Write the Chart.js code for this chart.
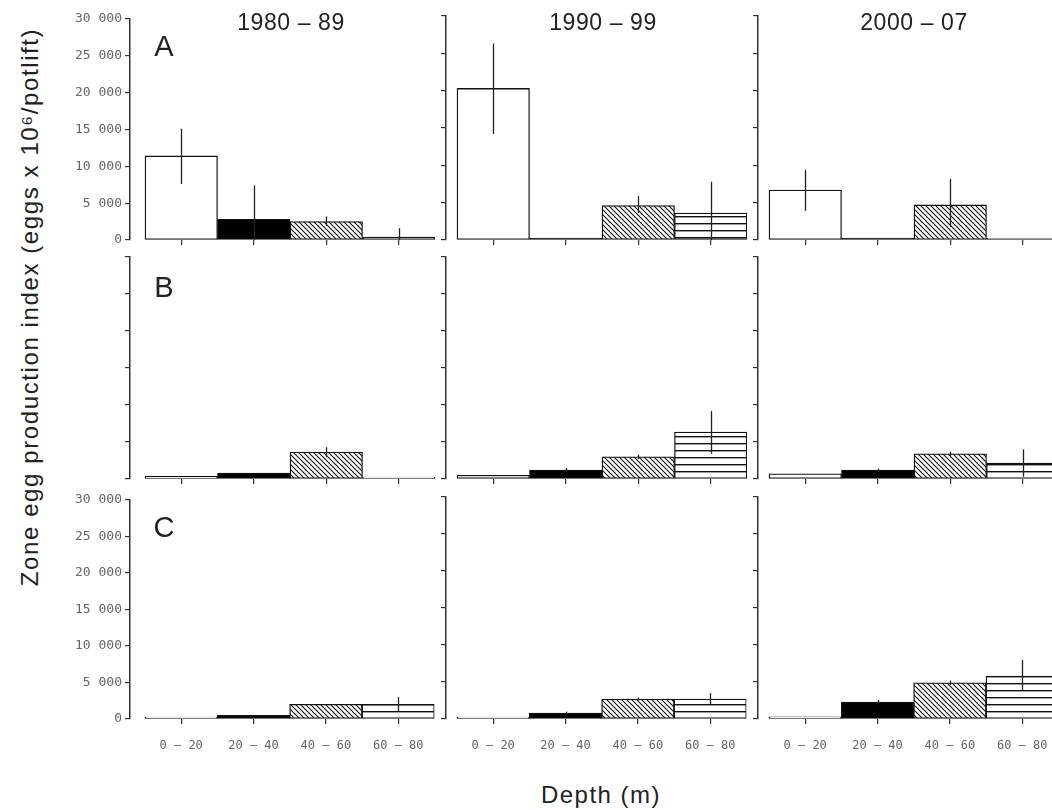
<!DOCTYPE html>
<html>
<head>
<meta charset="utf-8">
<script src="https://cdn.jsdelivr.net/npm/chart.js@4.4.0/dist/chart.umd.min.js"></script>
<style>
  body { margin: 0; background: #fff; width: 1052px; height: 810px; overflow: hidden; position: relative;
         font-family: "Liberation Sans", Arial, sans-serif; color: #222; }
  canvas { position: absolute; }
  .lbl { position: absolute; white-space: nowrap; transform: translate(-50%, -50%); }
</style>
</head>
<body>
<script>
// categories
const depthLabels = ['0 – 20', '20 – 40', '40 – 60', '60 – 80'];
const periods = ['1980 – 89', '1990 – 99', '2000 – 07'];
const zones = ['A', 'B', 'C'];

// zone A (one array per period: 1980-89, 1990-99, 2000-07)
const valuesA = [[11400, 2800, 2500, 400], [20300, 0, 4600, 3600], [6700, 0, 4700, 0]];
const upperA  = [[15100, 7400, 3200, 1600], [26300, null, 5900, 7800], [9400, null, 8200, null]];
const lowerA  = [[7600, 0, 1900, 0], [14200, null, 3600, 0], [3900, null, 1750, null]];

// zone B
const valuesB = [[350, 800, 3650, 0], [500, 1200, 3000, 6350], [700, 1200, 3400, 2150]];
const upperB  = [[null, null, 4300, null], [null, 1500, 3300, 9200], [null, 1400, 3700, 4000]];
const lowerB  = [[null, null, 3000, null], [null, 900, 2700, 3400], [null, 1000, 3100, 300]];

// zone C
const valuesC = [[0, 500, 2000, 2000], [150, 800, 2700, 2700], [300, 2300, 4900, 5800]];
const upperC  = [[null, null, null, 3000], [null, 1000, 2900, 3500], [null, 2600, 5200, 8000]];
const lowerC  = [[null, null, null, 1000], [null, 600, 2500, 2000], [null, 2000, 4600, 3800]];

const yTicks = [0, 5000, 10000, 15000, 20000, 25000, 30000];

const allValues = [valuesA, valuesB, valuesC];
const allUpper = [upperA, upperB, upperC];
const allLower = [lowerA, lowerB, lowerC];

// layout of the panels
const colAxisX = [130, 446, 758];
const colGap = [15, 11, 11];
const rowTop = [16, 257, 497];
const rowBottom = [240, 479, 719];
const unit = 72.5;
const yW = 70, xH = 40, padTop = 8, padRight = 4;

function hatchPattern() {
  const n = 5;
  const c = document.createElement('canvas');
  c.width = c.height = n;
  const g = c.getContext('2d');
  g.fillStyle = '#fff';
  g.fillRect(0, 0, n, n);
  g.strokeStyle = '#111';
  g.lineWidth = 1.1;
  g.beginPath();
  g.moveTo(-1, -1); g.lineTo(n + 1, n + 1);
  g.moveTo(-1, n - 1); g.lineTo(1, n + 1);
  g.moveTo(n - 1, -1); g.lineTo(n + 1, 1);
  g.stroke();
  return g.createPattern(c, 'repeat');
}

function linesPattern() {
  const c = document.createElement('canvas');
  c.width = c.height = 7;
  const g = c.getContext('2d');
  g.fillStyle = '#fff';
  g.fillRect(0, 0, 7, 7);
  g.fillStyle = '#111';
  g.fillRect(0, 5, 7, 1.4);
  return g.createPattern(c, 'repeat');
}

const fills = ['#ffffff', '#000000', hatchPattern(), linesPattern()];

function fmt(v) {
  return String(v).replace(/\B(?=(\d{3})+(?!\d))/g, ' ');
}

// error bars drawn through the chart's own scales
const errorBars = {
  id: 'errorBars',
  afterDatasetsDraw(chart) {
    const ds = chart.data.datasets[0];
    const { ctx, scales: { x, y } } = chart;
    ctx.save();
    ctx.strokeStyle = '#222';
    ctx.lineWidth = 1.3;
    ds.errHi.forEach((hi, i) => {
      if (hi == null) return;
      const px = Math.round(x.getPixelForValue(i)) + 0.5;
      ctx.beginPath();
      ctx.moveTo(px, y.getPixelForValue(hi));
      ctx.lineTo(px, y.getPixelForValue(ds.errLo[i]));
      ctx.stroke();
    });
    ctx.restore();
  }
};

for (let r = 0; r < 3; r++) {
  for (let c = 0; c < 3; c++) {
    const areaW = colGap[c] + 4 * unit;
    const areaH = rowBottom[r] - rowTop[r];
    const cv = document.createElement('canvas');
    cv.width = yW + areaW + padRight;
    cv.height = padTop + areaH + xH;
    cv.style.left = (colAxisX[c] - yW) + 'px';
    cv.style.top = (rowTop[r] - padTop) + 'px';
    document.body.appendChild(cv);

    new Chart(cv.getContext('2d'), {
      type: 'bar',
      data: {
        datasets: [{
          data: allValues[r][c].map((v, i) => ({ x: i, y: v })),
          errHi: allUpper[r][c],
          errLo: allLower[r][c],
          backgroundColor: fills,
          borderColor: '#111',
          borderWidth: 1.3,
          borderSkipped: false,
          barThickness: unit,
          minBarLength: 2
        }]
      },
      options: {
        responsive: false,
        devicePixelRatio: 1,
        animation: false,
        layout: { padding: { top: padTop, right: padRight, left: 0, bottom: 0 } },
        plugins: { legend: { display: false }, tooltip: { enabled: false } },
        scales: {
          x: {
            type: 'linear',
            offset: false,
            min: -0.5 - colGap[c] / unit,
            max: 3.5,
            afterBuildTicks: s => { s.ticks = [0, 1, 2, 3].map(v => ({ value: v })); },
            afterFit: s => { s.height = xH; },
            border: { display: false },
            grid: { offset: false, drawOnChartArea: false, drawTicks: true, tickLength: 5, color: '#333', lineWidth: 1.2 },
            ticks: {
              display: r === 2,
              callback: v => depthLabels[v],
              autoSkip: false,
              maxRotation: 0,
              padding: 15,
              color: '#666',
              font: { family: 'DejaVu Sans Mono', size: 12 }
            }
          },
          y: {
            min: 0,
            max: 30000,
            afterBuildTicks: s => { s.ticks = yTicks.map(v => ({ value: v })); },
            afterFit: s => { s.width = yW; },
            border: { display: true, color: '#333', width: 1.5 },
            grid: { drawOnChartArea: false, drawTicks: true, tickLength: 5, color: '#333', lineWidth: 1.2 },
            ticks: {
              display: c === 0 && r !== 1,
              callback: v => fmt(v),
              padding: 3,
              color: '#666',
              font: { family: 'DejaVu Sans Mono', size: 13 }
            }
          }
        }
      },
      plugins: [errorBars]
    });
  }
}

// titles as text
function addLabel(text, x, y, css) {
  const d = document.createElement('div');
  d.className = 'lbl';
  d.textContent = text;
  d.style.left = x + 'px';
  d.style.top = y + 'px';
  Object.assign(d.style, css || {});
  document.body.appendChild(d);
  return d;
}

const titleX = [291, 603, 914];
periods.forEach((p, i) => addLabel(p, titleX[i], 22, { fontSize: '23px', letterSpacing: '0.6px' }));
const zoneY = [46, 287, 527];
zones.forEach((z, i) => addLabel(z, 164, zoneY[i], { fontSize: '29px' }));
addLabel('Depth (m)', 601, 795, { fontSize: '24px', letterSpacing: '1.5px' });
addLabel('Zone egg production index (eggs x 10⁶/potlift)', 30, 307,
  { fontSize: '24px', letterSpacing: '1.6px', transform: 'translate(-50%, -50%) rotate(-90deg)' });
</script>
</body>
</html>
